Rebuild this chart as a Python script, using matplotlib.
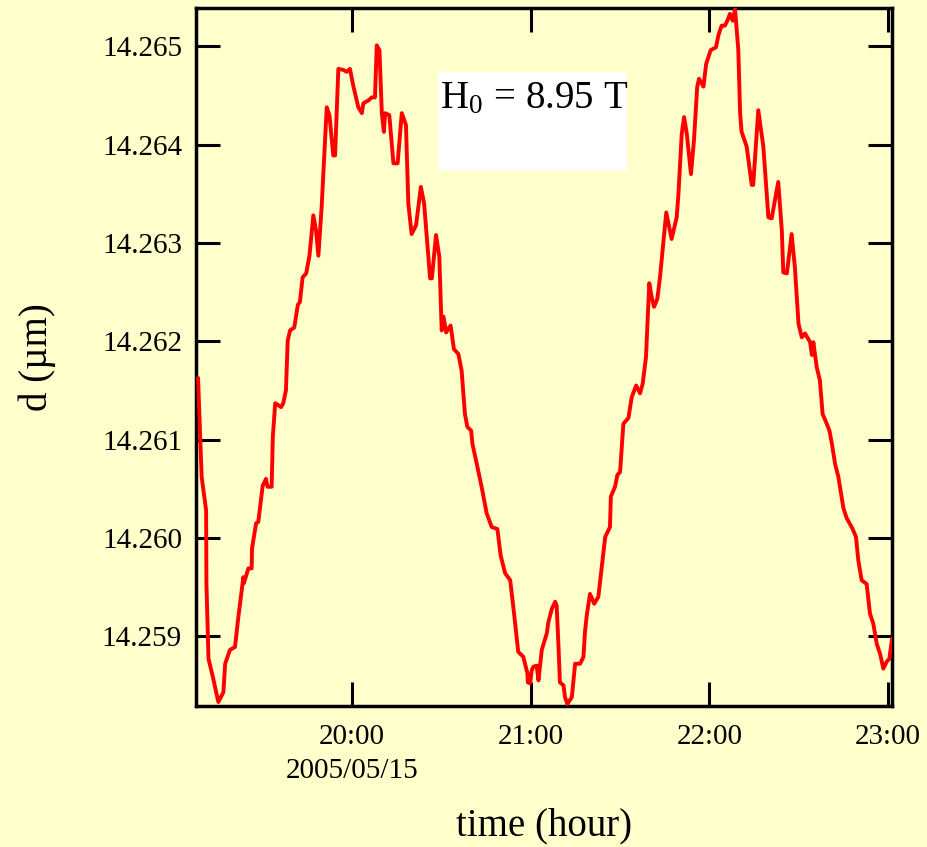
import matplotlib
matplotlib.use("Agg")
import matplotlib.pyplot as plt
from matplotlib.patches import Rectangle

plt.rcParams['font.family'] = ['Liberation Serif', 'DejaVu Serif']
plt.rcParams['mathtext.fontset'] = 'stix'

# time in minutes after 19:00 on 2005/05/15, d in micrometres
t_min = [8.3, 9.0, 9.5, 11.0, 11.1, 11.8, 13.3, 15.1, 16.8, 17.4,
         19.0, 20.7, 21.8, 23.5, 23.7, 25.2, 26.3, 26.4, 27.8, 28.5,
         30.0, 31.1, 31.6, 33.0, 33.4, 34.2, 36.2, 36.9, 37.8, 38.4,
         39.2, 40.6, 41.8, 42.5, 43.4, 44.6, 45.7, 47.0, 47.9, 48.7,
         49.8, 51.5, 52.4, 53.7, 54.3, 55.4, 57.1, 58.2, 59.3, 60.4,
         62.1, 63.3, 63.8, 65.5, 66.6, 67.7, 68.3, 69.2, 70.0, 70.7,
         71.1, 72.5, 73.9, 75.3, 76.7, 78.1, 78.9, 80.0, 81.5, 83.1,
         84.2, 86.2, 86.8, 88.2, 89.3, 90.1, 90.7, 91.6, 93.1, 94.2,
         95.7, 96.8, 97.9, 98.7, 100.0, 100.4, 101.9, 103.5, 105.2, 106.9,
         108.8, 109.9, 111.4, 113.1, 114.4, 115.8, 117.5, 118.9, 119.0, 119.8,
         120.3, 120.9, 122.0, 122.6, 123.7, 125.4, 125.9, 127.1, 128.2, 128.7,
         129.3, 129.8, 131.0, 131.5, 132.3, 133.8, 134.9, 136.6, 137.7, 138.2,
         138.8, 139.9, 141.3, 142.7, 143.8, 145.0, 146.6, 146.9, 148.3, 149.1,
         150.0, 151.1, 152.8, 153.9, 155.4, 156.7, 157.6, 158.7, 159.8, 160.6,
         161.4, 162.5, 163.4, 164.5, 165.5, 167.3, 169.0, 169.6, 170.7, 171.5,
         172.4, 173.8, 174.8, 175.9, 176.5, 178.0, 178.9, 180.4, 182.2, 183.0,
         184.1, 185.2, 186.0, 186.9, 187.8, 188.6, 189.7, 190.3, 190.8, 192.5,
         194.2, 194.7, 196.4, 198.1, 199.8, 200.9, 203.1, 204.3, 204.8, 206.0,
         207.6, 208.7, 209.9, 211.0, 212.1, 213.8, 214.4, 214.9, 216.0, 217.1,
         218.0, 219.4, 220.3, 221.1, 222.2, 223.3, 225.0, 226.1, 228.1, 229.2,
         230.0, 231.1, 232.8, 233.9, 235.0, 236.2, 237.3, 238.4, 239.5, 240.4,
         241.3]

d_um = [14.26162, 14.26102, 14.26062, 14.26028, 14.25954, 14.25877, 14.25858, 14.25833, 14.25843, 14.25872,
        14.25886, 14.25889, 14.25919, 14.25960, 14.25954, 14.25969, 14.25969, 14.25989, 14.26015, 14.26016,
        14.26053, 14.26060, 14.26052, 14.26052, 14.26103, 14.26137, 14.26133, 14.26137, 14.26150, 14.26201,
        14.26211, 14.26214, 14.26237, 14.26240, 14.26265, 14.26269, 14.26287, 14.26328, 14.26313, 14.26287,
        14.26337, 14.26438, 14.26430, 14.26389, 14.26389, 14.26477, 14.26476, 14.26474, 14.26477, 14.26460,
        14.26438, 14.26432, 14.26442, 14.26445, 14.26448, 14.26448, 14.26501, 14.26496, 14.26432, 14.26413,
        14.26432, 14.26430, 14.26381, 14.26381, 14.26432, 14.26420, 14.26340, 14.26309, 14.26318, 14.26357,
        14.26340, 14.26264, 14.26264, 14.26308, 14.26286, 14.26211, 14.26225, 14.26209, 14.26216, 14.26192,
        14.26187, 14.26170, 14.26126, 14.26113, 14.26109, 14.26096, 14.26075, 14.26052, 14.26025, 14.26011,
        14.26009, 14.25982, 14.25964, 14.25957, 14.25923, 14.25884, 14.25879, 14.25862, 14.25853, 14.25852,
        14.25865, 14.25869, 14.25870, 14.25855, 14.25886, 14.25903, 14.25914, 14.25928, 14.25935, 14.25931,
        14.25891, 14.25853, 14.25850, 14.25838, 14.25831, 14.25838, 14.25872, 14.25872, 14.25879, 14.25904,
        14.25921, 14.25943, 14.25933, 14.25940, 14.25969, 14.26001, 14.26011, 14.26042, 14.26052, 14.26064,
        14.26067, 14.26116, 14.26122, 14.26143, 14.26155, 14.26147, 14.26157, 14.26184, 14.26259, 14.26245,
        14.26235, 14.26243, 14.26265, 14.26299, 14.26331, 14.26304, 14.26326, 14.26350, 14.26411, 14.26428,
        14.26411, 14.26370, 14.26404, 14.26459, 14.26467, 14.26459, 14.26482, 14.26496, 14.26499, 14.26511,
        14.26521, 14.26521, 14.26526, 14.26533, 14.26526, 14.26538, 14.26496, 14.26432, 14.26413, 14.26398,
        14.26359, 14.26359, 14.26435, 14.26398, 14.26326, 14.26325, 14.26362, 14.26313, 14.26270, 14.26269,
        14.26309, 14.26275, 14.26218, 14.26204, 14.26208, 14.26199, 14.26186, 14.26199, 14.26174, 14.26160,
        14.26126, 14.26116, 14.26109, 14.26096, 14.26075, 14.26062, 14.26030, 14.26020, 14.26009, 14.26001,
        14.25977, 14.25957, 14.25953, 14.25923, 14.25913, 14.25892, 14.25882, 14.25867, 14.25874, 14.25877,
        14.25897]

hour_ticks = [60, 120, 180, 240]
hour_labels = ['20:00', '21:00', '22:00', '23:00']
y_ticks = [14.259, 14.260, 14.261, 14.262, 14.263, 14.264, 14.265]
date_label = '2005/05/15'
field_label = r'H$_{\mathregular{0}}$ = 8.95 T'

bg = '#FFFFCC'
fig = plt.figure(figsize=(9.28, 8.47), dpi=100, facecolor=bg)
ax = fig.add_axes([0.2112, 0.1665, 0.75, 0.8241], facecolor=bg)

ax.plot(t_min, d_um, color='#FF0000', lw=2.8, zorder=3,
        solid_joinstyle='round')

ax.set_xlim(7.6, 241.3)
ax.set_ylim(14.25829, 14.26539)

ax.set_xticks(hour_ticks)
ax.set_xticklabels(hour_labels)
ax.set_yticks(y_ticks)
ax.set_yticklabels(['%.3f' % v for v in y_ticks])

ax.tick_params(direction='in', length=17, width=2.2, labelsize=21,
               top=True, right=True, color='black')
ax.tick_params(axis='y', pad=10)
ax.tick_params(axis='x', pad=13)
for s in ax.spines.values():
    s.set_linewidth(2.5)

ax.text(60, -0.093, date_label, transform=ax.get_xaxis_transform(),
        ha='center', va='center', fontsize=21)

ax.set_xlabel('time (hour)', fontsize=28, va='center')
ax.xaxis.set_label_coords(0.5, -0.172)
ax.set_ylabel('d (\u00b5m)', fontsize=28, va='center', ha='center')
ax.yaxis.set_label_coords(-0.228, 0.5)

ax.add_patch(Rectangle((0.3477, 0.7665), 0.2716, 0.1418, transform=ax.transAxes,
                       facecolor='white', edgecolor='none', zorder=2))
ax.text(0.3505, 0.855, field_label, transform=ax.transAxes, fontsize=28,
        ha='left', va='baseline', zorder=4)

fig.savefig('out.png', dpi=100, facecolor=bg)
